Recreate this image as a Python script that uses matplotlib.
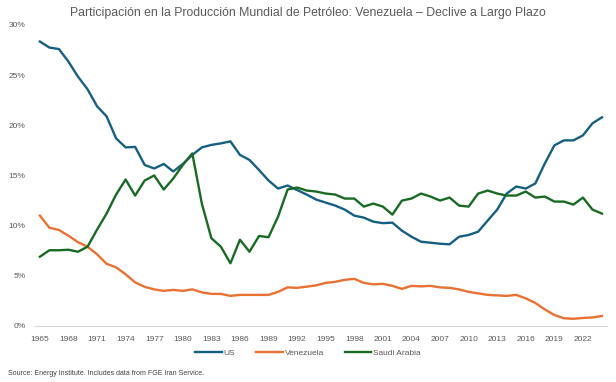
import matplotlib.pyplot as plt
from matplotlib.ticker import FuncFormatter

plt.rcParams['font.family'] = ['Liberation Sans', 'DejaVu Sans']

years = list(range(1965, 2025))

# share of world oil production, percent
us = [28.35, 27.75, 27.6, 26.35, 24.85, 23.6, 21.9, 20.9, 18.7, 17.8,
      17.85, 16.05, 15.7, 16.15, 15.4, 16.15, 17.05, 17.8, 18.05, 18.2,
      18.4, 17.05, 16.55, 15.55, 14.5, 13.7, 14.0, 13.55, 13.1, 12.6,
      12.3, 12.0, 11.6, 11.0, 10.8, 10.4, 10.25, 10.3, 9.5, 8.9,
      8.4, 8.3, 8.2, 8.14, 8.9, 9.07, 9.4, 10.5, 11.6, 13.2,
      13.9, 13.7, 14.2, 16.2, 18.0, 18.5, 18.5, 19.0, 20.2, 20.8]
venezuela = [11.0, 9.8, 9.57, 9.0, 8.35, 7.9, 7.15, 6.2, 5.85, 5.15,
             4.35, 3.9, 3.65, 3.5, 3.6, 3.5, 3.65, 3.35, 3.2, 3.2,
             3.0, 3.1, 3.1, 3.1, 3.1, 3.4, 3.85, 3.8, 3.92, 4.05,
             4.3, 4.4, 4.6, 4.7, 4.3, 4.15, 4.2, 4.0, 3.7, 4.0,
             3.95, 4.0, 3.85, 3.8, 3.65, 3.4, 3.25, 3.1, 3.05, 3.0,
             3.1, 2.75, 2.3, 1.65, 1.1, 0.77, 0.72, 0.8, 0.85, 1.0]
saudi = [6.9, 7.55, 7.55, 7.6, 7.4, 7.9, 9.6, 11.2, 13.1, 14.6,
         13.0, 14.5, 15.0, 13.6, 14.7, 16.05, 17.2, 12.2, 8.75, 7.9,
         6.25, 8.6, 7.4, 8.97, 8.85, 10.9, 13.6, 13.8, 13.5, 13.4,
         13.2, 13.1, 12.7, 12.7, 11.9, 12.2, 11.9, 11.1, 12.5, 12.7,
         13.2, 12.9, 12.5, 12.8, 12.0, 11.9, 13.2, 13.5, 13.2, 13.0,
         13.0, 13.4, 12.8, 12.9, 12.4, 12.4, 12.1, 12.8, 11.6, 11.2]

fig = plt.figure(figsize=(6.16, 3.82), dpi=100)
ax = fig.add_axes([0.057, 0.1466, 0.928, 0.788])

ax.plot(years, us, color='#156082', lw=1.7, label='US')
ax.plot(years, venezuela, color='#E97132', lw=1.7, label='Venezuela')
ax.plot(years, saudi, color='#196B24', lw=1.7, label='Saudi Arabia')

ax.set_xlim(1964.5, 2024.5)
ax.set_ylim(0, 30)
ax.set_yticks(range(0, 31, 5))
ax.yaxis.set_major_formatter(FuncFormatter(lambda v, p: '%d%%' % v))
ax.set_xticks(range(1965, 2025, 3))

for s in ['top', 'right', 'left']:
    ax.spines[s].set_visible(False)
ax.spines['bottom'].set_color('#D9D9D9')
ax.tick_params(axis='both', length=0, labelsize=6, colors='#595959')
ax.tick_params(axis='x', pad=7)
ax.tick_params(axis='y', pad=7)

fig.text(0.5, 0.965, 'Participación en la Producción Mundial de Petróleo: Venezuela – Declive a Largo Plazo',
         ha='center', va='center', fontsize=8.8, color='#595959')

fig.legend(loc='center', bbox_to_anchor=(0.5, 0.075), ncol=3, frameon=False,
           fontsize=6, labelcolor='#595959', handlelength=3.2, handletextpad=0.2,
           columnspacing=2.5)

fig.text(0.013, 0.022, 'Source: Energy Institute. Includes data from FGE Iran Service.',
         ha='left', va='center', fontsize=5, color='#404040')

fig.savefig('out.png', dpi=100)
